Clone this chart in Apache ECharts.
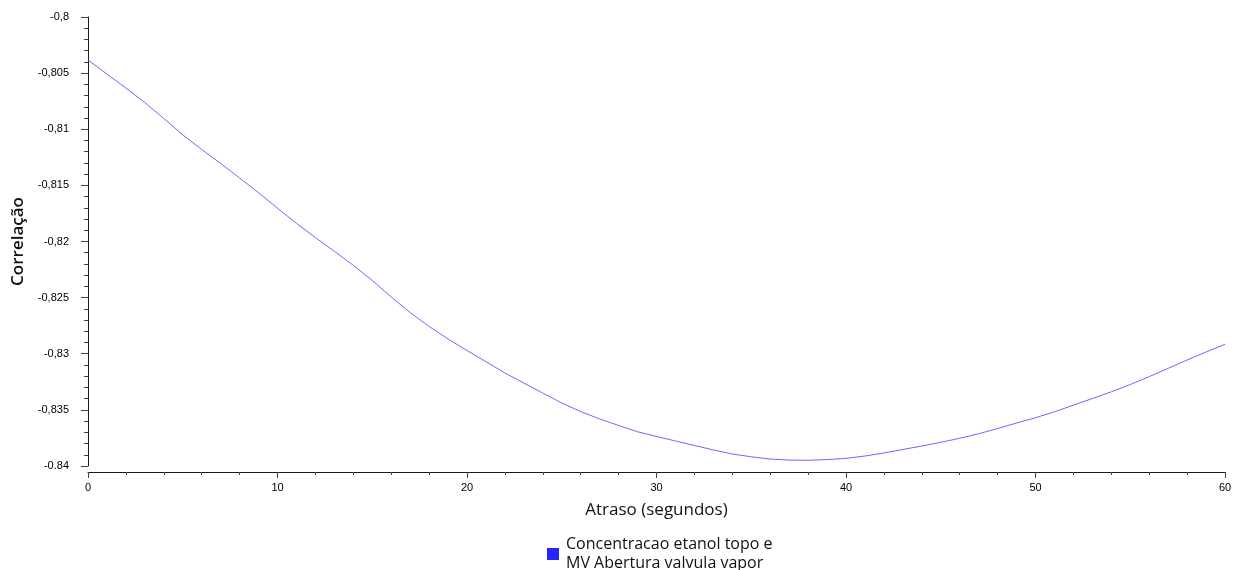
<!DOCTYPE html>
<html>
<head>
<meta charset="utf-8">
<script src="https://cdn.jsdelivr.net/npm/echarts@6/dist/echarts.min.js"></script>
<style>
  html, body { margin: 0; padding: 0; background: #fff; }
  #chart { width: 1237px; height: 570px; }
</style>
</head>
<body>
<div id="chart"></div>
<script>
// atraso em segundos
var atraso = [];
for (var s = 0; s <= 60; s++) atraso.push(s);

// correlacao, um valor por segundo
var correlacao = [
  -0.80383, -0.80508, -0.80633, -0.80762, -0.80904, -0.81050, -0.81180, -0.81305, -0.81434, -0.81565,
  -0.81703, -0.81838, -0.81965, -0.82087, -0.82212, -0.82347, -0.82494, -0.82633, -0.82757, -0.82869,
  -0.82971, -0.83071, -0.83171, -0.83261, -0.83350, -0.83439, -0.83515, -0.83581, -0.83639, -0.83695,
  -0.83737, -0.83777, -0.83817, -0.83857, -0.83893, -0.83918, -0.83938, -0.83947, -0.83949, -0.83943,
  -0.83932, -0.83911, -0.83884, -0.83853, -0.83822, -0.83789, -0.83753, -0.83713, -0.83666, -0.83617,
  -0.83570, -0.83517, -0.83458, -0.83399, -0.83339, -0.83274, -0.83204, -0.83130, -0.83056, -0.82984,
  -0.82916
];

var yTickLabels = ['-0.84', '-0,835', '-0,83', '-0,825', '-0,82', '-0,815', '-0,81', '-0,805', '-0,8'];
var xTickLabels = ['0', '10', '20', '30', '40', '50', '60'];

var serieNome = 'Concentracao etanol topo e\nMV Abertura valvula vapor';

var chart = echarts.init(document.getElementById('chart'));

var eixoCor = '#1a1a1a';
var rotuloFonte = { color: '#000', fontSize: 11, fontFamily: 'Liberation Sans' };

var option = {
  animation: false,
  grid: { left: 88, right: 12, top: 17, bottom: 104, outerBoundsMode: 'none', containLabel: false },
  legend: {
    left: 542,
    top: 530,
    itemWidth: 12,
    itemHeight: 12,
    itemGap: 0,
    icon: 'rect',
    textStyle: { color: '#111', fontSize: 16, fontFamily: 'Open Sans', lineHeight: 19, padding: [0, 0, 0, 2] },
    data: [serieNome]
  },
  xAxis: {
    type: 'value',
    min: 0,
    max: 60,
    interval: 10,
    offset: 6,
    name: 'Atraso (segundos)',
    nameLocation: 'middle',
    nameGap: 30,
    nameTextStyle: { color: '#111', fontSize: 17, fontFamily: 'Open Sans' },
    axisLine: { lineStyle: { color: eixoCor, width: 1 } },
    axisTick: { show: true, length: 6, lineStyle: { color: '#444' } },
    minorTick: { show: true, splitNumber: 5, length: 3, lineStyle: { color: '#444' } },
    splitLine: { show: false },
    axisLabel: Object.assign({
      margin: 10,
      formatter: function (v) { return xTickLabels[Math.round(v / 10)]; }
    }, rotuloFonte)
  },
  yAxis: {
    type: 'value',
    min: -0.84,
    max: -0.8,
    interval: 0.005,
    offset: 7,
    name: 'Correlação',
    nameLocation: 'middle',
    nameGap: 53,
    nameTextStyle: { color: '#111', fontSize: 17, fontFamily: 'Open Sans', fontWeight: 600 },
    axisLine: { show: true, lineStyle: { color: eixoCor, width: 1 } },
    axisTick: { show: true, length: 7, lineStyle: { color: '#444' } },
    minorTick: { show: true, splitNumber: 5, length: 4, lineStyle: { color: '#444' } },
    splitLine: { show: false },
    axisLabel: Object.assign({
      margin: 12,
      formatter: function (v) { return yTickLabels[Math.round((v + 0.84) / 0.005)]; }
    }, rotuloFonte)
  },
  series: [
    {
      name: serieNome,
      type: 'line',
      showSymbol: false,
      symbol: 'none',
      smooth: false,
      itemStyle: { color: '#2424ff' },
      lineStyle: { color: '#6a6aff', width: 1 },
      data: atraso.map(function (t, i) { return [t, correlacao[i]]; })
    }
  ]
};

chart.setOption(option);
</script>
</body>
</html>
